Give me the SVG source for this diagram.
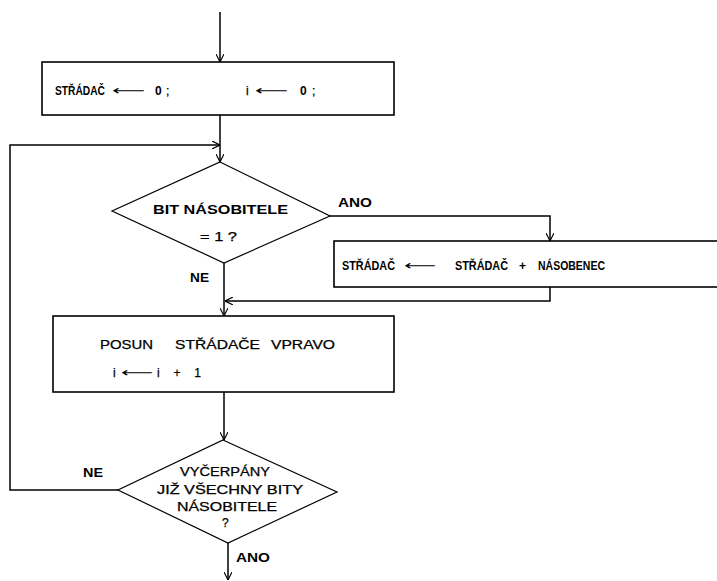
<svg xmlns="http://www.w3.org/2000/svg" width="717" height="581" viewBox="0 0 717 581">
  <style>
    .box { fill: #ffffff; stroke: #000000; stroke-width: 1.6; }
    .dia { fill: #ffffff; stroke: #000000; stroke-width: 1.2; }
    .ln { fill: none; stroke: #000000; stroke-width: 1.5; }
    .t { font-family: "Liberation Sans", "DejaVu Sans", sans-serif; font-size: 12px; font-weight: bold; fill: #000000; }
    .r { font-family: "Liberation Sans", "DejaVu Sans", sans-serif; font-size: 12px; font-weight: normal; fill: #000000; stroke: #000000; stroke-width: 0.25; }
    .ar { font-family: "DejaVu Sans", sans-serif; font-size: 13px; font-weight: normal; fill: #000000; }
  </style>
  <defs>
    <marker id="head" viewBox="0 0 10 10" refX="10" refY="5" markerWidth="8" markerHeight="8" markerUnits="userSpaceOnUse" orient="auto">
      <path d="M0,0 L10,5 L0,10" fill="none" stroke="#000000" stroke-width="1.4"/>
    </marker>
  </defs>

  <rect width="717" height="581" fill="#ffffff"/>

  <!-- connectors -->
  <g id="connectors">
    <path class="ln" d="M220,12 V62" marker-end="url(#head)"/>
    <path class="ln" d="M220,115 V162" marker-end="url(#head)"/>
    <path class="ln" d="M118,490 H10 V145 H220" marker-end="url(#head)"/>
    <path class="ln" d="M330,216 H550 V241" marker-end="url(#head)"/>
    <path class="ln" d="M550,287 V301 H225" marker-end="url(#head)"/>
    <path class="ln" d="M224,263 V316" marker-end="url(#head)"/>
    <path class="ln" d="M224,392 V440" marker-end="url(#head)"/>
    <path class="ln" d="M228,543 V580" marker-end="url(#head)"/>
    <text class="t" x="338" y="207" textLength="34" lengthAdjust="spacingAndGlyphs">ANO</text>
    <text class="t" x="190" y="282" textLength="19" lengthAdjust="spacingAndGlyphs">NE</text>
    <text class="t" x="83" y="477" textLength="20" lengthAdjust="spacingAndGlyphs">NE</text>
    <text class="t" x="236" y="562" textLength="34" lengthAdjust="spacingAndGlyphs">ANO</text>
  </g>

  <!-- initialisation -->
  <g id="init">
    <rect class="box" x="42" y="62" width="352" height="53"/>
    <text class="t" x="55" y="95" textLength="50" lengthAdjust="spacingAndGlyphs">STŘÁDAČ</text>
    <text class="ar" x="112" y="95" textLength="33" lengthAdjust="spacingAndGlyphs">⟵</text>
    <text class="t" x="155" y="95">0</text>
    <text class="r" x="166" y="95">;</text>
    <text class="r" x="246" y="95">i</text>
    <text class="ar" x="255" y="95" textLength="33" lengthAdjust="spacingAndGlyphs">⟵</text>
    <text class="t" x="300" y="95">0</text>
    <text class="r" x="312" y="95">;</text>
  </g>

  <!-- test of multiplier bit -->
  <g id="bit-test">
    <polygon class="dia" points="220,162 330,216 224,263 112,211"/>
    <text class="t" x="153" y="214" textLength="135" lengthAdjust="spacingAndGlyphs">BIT NÁSOBITELE</text>
    <text class="r" x="200" y="241" textLength="37" lengthAdjust="spacingAndGlyphs">= 1 ?</text>
  </g>

  <!-- accumulate -->
  <g id="add">
    <rect class="box" x="334" y="241" width="390" height="46"/>
    <text class="t" x="342" y="270" textLength="53" lengthAdjust="spacingAndGlyphs">STŘÁDAČ</text>
    <text class="ar" x="404" y="270" textLength="32" lengthAdjust="spacingAndGlyphs">⟵</text>
    <text class="t" x="455" y="270" textLength="53" lengthAdjust="spacingAndGlyphs">STŘÁDAČ</text>
    <text class="t" x="519" y="270">+</text>
    <text class="t" x="538" y="270" textLength="67" lengthAdjust="spacingAndGlyphs">NÁSOBENEC</text>
  </g>

  <!-- shift -->
  <g id="shift">
    <rect class="box" x="53" y="316" width="341" height="76"/>
    <text class="r" x="100" y="349" textLength="53" lengthAdjust="spacingAndGlyphs">POSUN</text>
    <text class="r" x="175" y="349" textLength="85" lengthAdjust="spacingAndGlyphs">STŘÁDAČE</text>
    <text class="r" x="271" y="349" textLength="64" lengthAdjust="spacingAndGlyphs">VPRAVO</text>
    <text class="r" x="113" y="377">i</text>
    <text class="ar" x="121" y="377" textLength="32" lengthAdjust="spacingAndGlyphs">⟵</text>
    <text class="r" x="157" y="377" textLength="44" lengthAdjust="spacing">i + 1</text>
  </g>

  <!-- all bits done? -->
  <g id="done-test">
    <polygon class="dia" points="223,440 337,492 228,543 118,490"/>
    <text class="r" x="180" y="476" textLength="90" lengthAdjust="spacingAndGlyphs">VYČERPÁNY</text>
    <text class="r" x="157" y="494" textLength="146" lengthAdjust="spacingAndGlyphs">JIŽ VŠECHNY BITY</text>
    <text class="r" x="177" y="511" textLength="100" lengthAdjust="spacingAndGlyphs">NÁSOBITELE</text>
    <text class="r" x="222" y="527">?</text>
  </g>
</svg>
